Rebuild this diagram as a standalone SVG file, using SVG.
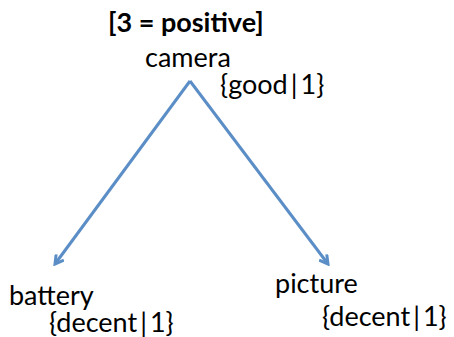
<svg xmlns="http://www.w3.org/2000/svg" width="454" height="337" viewBox="0 0 454 337">
<defs>
<style>
text{font-family:Lato,"Open Sans",sans-serif;font-size:27px;fill:#000}
.b{font-weight:bold}
.e{stroke:#5b8ec6;stroke-width:3;fill:none}
</style>
<marker id="ah" markerWidth="12" markerHeight="12" refX="8" refY="5" orient="auto" markerUnits="userSpaceOnUse" viewBox="0 0 10 10">
<path d="M1,1 L8,5 L1,9" fill="none" stroke="#5b8ec6" stroke-width="2.5"/>
</marker>
</defs>
<rect width="454" height="337" fill="#fff"/>
<g id="title"><text class="b" x="108" y="32">[3 = positive]</text></g>
<g id="camera"><text x="145" y="67">camera</text><text x="220" y="94">{good<tspan dx="3">|</tspan><tspan dx="3">1}</tspan></text></g>
<g id="battery"><text x="9" y="305">battery</text><text x="49" y="332">{decent<tspan dx="3">|</tspan><tspan dx="3">1}</tspan></text></g>
<g id="picture"><text x="275" y="293">picture</text><text x="322" y="326">{decent<tspan dx="3">|</tspan><tspan dx="3">1}</tspan></text></g>
<g id="edges">
<path class="e" d="M190,81 L55,264" marker-end="url(#ah)"/>
<path class="e" d="M190,81 L328,264" marker-end="url(#ah)"/>
</g>
</svg>
